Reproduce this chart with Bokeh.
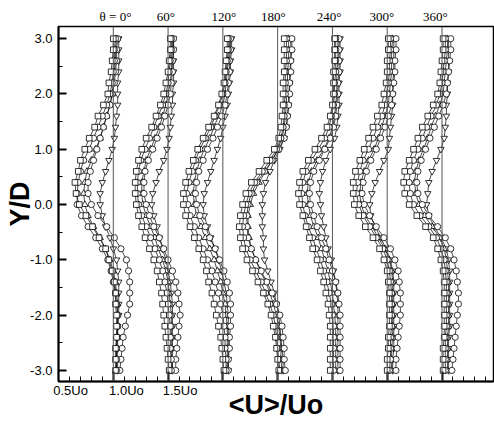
from bokeh.plotting import figure
from bokeh.models import Range1d, FixedTicker, Span, LinearAxis
from bokeh.embed import file_html
from bokeh.resources import INLINE

# ---------------- data ----------------
Y_D = [3.0, 2.8, 2.6, 2.4, 2.2, 2.0, 1.8, 1.6, 1.4, 1.2, 1.0, 0.8, 0.6, 0.4, 0.2, 0.0,
       -0.2, -0.4, -0.6, -0.8, -1.0, -1.2, -1.4, -1.6, -1.8, -2.0, -2.2, -2.4, -2.6, -2.8, -3.0]

PHASE_LABELS = ["θ = 0°", "60°", "120°", "180°", "240°", "300°", "360°"]

Y_TICKS = [-3, -2, -1, 0, 1, 2, 3]
Y_TICK_LABELS = ["-3.0", "-2.0", "-1.0", "0.0", "1.0", "2.0", "3.0"]
X_TICK_LABELS = ["0.5Uo", "1.0Uo", "1.5Uo"]

# <U>/Uo, one list per phase (0..360 deg), each over Y_D
U_SQUARE = [
    [1.00,1.00,0.99,0.98,0.96,0.95,0.91,0.86,0.83,0.78,0.74,0.70,0.68,0.65,0.66,0.69,0.75,0.81,0.87,0.93,0.96,0.99,1.01,1.02,1.02,1.03,1.03,1.03,1.02,1.02,1.02],
    [1.02,1.02,1.01,1.00,0.98,0.96,0.93,0.89,0.85,0.80,0.76,0.73,0.71,0.70,0.70,0.71,0.73,0.76,0.79,0.83,0.87,0.90,0.92,0.94,0.95,0.96,0.97,0.98,0.99,1.00,1.01],
    [1.04,1.04,1.03,1.02,1.01,0.99,0.96,0.92,0.87,0.82,0.77,0.73,0.69,0.66,0.64,0.64,0.66,0.70,0.74,0.78,0.82,0.85,0.87,0.90,0.92,0.94,0.96,0.98,0.99,1.00,1.01],
    [1.06,1.06,1.06,1.06,1.05,1.05,1.05,1.04,1.03,1.01,0.97,0.90,0.83,0.76,0.71,0.68,0.66,0.65,0.66,0.68,0.72,0.77,0.82,0.87,0.91,0.94,0.96,0.98,0.99,1.00,1.01],
    [1.02,1.02,1.02,1.01,1.01,1.01,1.00,0.98,0.95,0.90,0.84,0.78,0.73,0.70,0.69,0.70,0.73,0.76,0.79,0.82,0.86,0.89,0.92,0.94,0.96,0.97,0.98,0.98,0.98,0.98,0.98],
    [1.01,1.01,1.00,1.00,0.99,0.97,0.95,0.91,0.87,0.83,0.79,0.75,0.71,0.69,0.69,0.70,0.74,0.80,0.87,0.93,0.97,1.00,1.01,1.02,1.02,1.02,1.02,1.01,1.01,1.00,1.00],
    [1.01,1.01,1.00,0.99,0.98,0.96,0.92,0.87,0.82,0.78,0.74,0.70,0.66,0.65,0.66,0.70,0.77,0.85,0.92,0.96,0.99,1.01,1.02,1.02,1.02,1.02,1.02,1.02,1.01,1.01,1.01],
]
U_CIRCLE = [
    [1.02,1.01,1.01,1.00,0.99,0.97,0.94,0.90,0.86,0.82,0.78,0.73,0.70,0.68,0.67,0.67,0.71,0.77,0.84,0.90,0.95,0.98,1.00,1.02,1.03,1.04,1.04,1.03,1.03,1.03,1.03],
    [1.03,1.03,1.02,1.01,1.00,0.98,0.95,0.91,0.87,0.83,0.79,0.75,0.73,0.72,0.72,0.73,0.76,0.80,0.84,0.88,0.92,0.95,0.97,0.99,1.00,1.01,1.02,1.02,1.02,1.03,1.03],
    [1.05,1.05,1.04,1.03,1.02,1.00,0.97,0.93,0.89,0.84,0.79,0.75,0.72,0.69,0.67,0.68,0.70,0.74,0.78,0.82,0.86,0.90,0.93,0.96,0.98,1.00,1.01,1.02,1.02,1.03,1.03],
    [1.08,1.08,1.08,1.07,1.07,1.07,1.06,1.06,1.05,1.03,0.99,0.93,0.86,0.79,0.74,0.71,0.69,0.68,0.69,0.71,0.75,0.80,0.85,0.89,0.93,0.96,0.98,0.99,1.00,1.01,1.02],
    [1.03,1.03,1.03,1.03,1.02,1.02,1.01,0.99,0.97,0.93,0.87,0.81,0.76,0.73,0.72,0.73,0.75,0.78,0.82,0.85,0.89,0.92,0.95,0.97,0.99,1.00,1.01,1.01,1.01,1.01,1.01],
    [1.03,1.03,1.02,1.02,1.01,1.00,0.98,0.95,0.91,0.87,0.83,0.78,0.75,0.73,0.72,0.74,0.78,0.84,0.90,0.96,1.00,1.02,1.03,1.04,1.04,1.04,1.04,1.03,1.03,1.03,1.02],
    [1.03,1.03,1.02,1.01,1.00,0.98,0.95,0.90,0.86,0.82,0.78,0.74,0.71,0.70,0.71,0.74,0.80,0.88,0.95,0.99,1.02,1.03,1.04,1.04,1.04,1.04,1.04,1.03,1.03,1.03,1.03],
]
U_TRI_UP = [
    [1.03,1.02,1.02,1.01,1.00,0.99,0.97,0.94,0.91,0.88,0.84,0.80,0.76,0.74,0.73,0.74,0.77,0.82,0.88,0.93,0.97,1.00,1.02,1.03,1.04,1.04,1.04,1.04,1.03,1.03,1.03],
    [1.04,1.04,1.03,1.03,1.02,1.00,0.98,0.95,0.92,0.88,0.84,0.80,0.78,0.76,0.76,0.77,0.80,0.84,0.88,0.91,0.95,0.98,1.00,1.01,1.02,1.03,1.03,1.03,1.03,1.03,1.04],
    [1.06,1.06,1.05,1.04,1.03,1.02,1.00,0.96,0.92,0.88,0.83,0.79,0.76,0.74,0.73,0.74,0.76,0.80,0.84,0.88,0.92,0.95,0.98,1.00,1.02,1.03,1.04,1.04,1.04,1.04,1.04],
    [1.10,1.10,1.10,1.09,1.09,1.08,1.08,1.07,1.06,1.04,1.00,0.95,0.89,0.83,0.78,0.75,0.73,0.73,0.74,0.76,0.80,0.84,0.89,0.93,0.96,0.99,1.01,1.02,1.03,1.03,1.04],
    [1.05,1.05,1.05,1.04,1.04,1.04,1.03,1.02,1.00,0.97,0.92,0.86,0.81,0.78,0.77,0.78,0.80,0.83,0.87,0.90,0.93,0.96,0.98,1.00,1.01,1.02,1.03,1.03,1.03,1.03,1.03],
    [1.05,1.04,1.04,1.04,1.03,1.02,1.01,0.98,0.95,0.92,0.88,0.83,0.79,0.76,0.75,0.76,0.80,0.86,0.92,0.98,1.02,1.04,1.05,1.05,1.05,1.05,1.05,1.05,1.04,1.04,1.04],
    [1.05,1.05,1.04,1.03,1.02,1.01,0.98,0.94,0.90,0.87,0.83,0.79,0.76,0.75,0.76,0.79,0.84,0.91,0.98,1.02,1.04,1.05,1.06,1.06,1.06,1.06,1.06,1.05,1.05,1.05,1.05],
]
U_TRI_DOWN = [
    [1.05,1.05,1.05,1.05,1.04,1.04,1.04,1.03,1.02,1.01,0.99,0.96,0.93,0.90,0.88,0.88,0.90,0.93,0.97,1.00,1.03,1.04,1.05,1.05,1.05,1.05,1.04,1.04,1.04,1.04,1.04],
    [1.05,1.05,1.05,1.05,1.05,1.04,1.04,1.03,1.02,1.01,0.99,0.96,0.92,0.89,0.86,0.85,0.87,0.90,0.92,0.95,0.98,1.00,1.02,1.03,1.04,1.04,1.04,1.04,1.04,1.04,1.04],
    [1.08,1.08,1.07,1.07,1.06,1.05,1.04,1.02,1.00,0.98,0.95,0.92,0.89,0.86,0.83,0.82,0.83,0.86,0.89,0.93,0.96,0.99,1.01,1.03,1.04,1.05,1.05,1.05,1.05,1.05,1.05],
    [1.12,1.12,1.12,1.11,1.11,1.10,1.10,1.09,1.08,1.06,1.02,0.97,0.93,0.89,0.87,0.86,0.86,0.86,0.87,0.87,0.88,0.91,0.94,0.97,0.99,1.01,1.02,1.03,1.04,1.05,1.05],
    [1.07,1.07,1.07,1.07,1.06,1.06,1.06,1.05,1.04,1.02,0.98,0.94,0.91,0.89,0.88,0.89,0.90,0.92,0.94,0.96,0.99,1.01,1.03,1.04,1.05,1.05,1.05,1.05,1.05,1.05,1.05],
    [1.06,1.06,1.06,1.06,1.05,1.05,1.05,1.04,1.03,1.02,1.01,0.97,0.93,0.89,0.86,0.84,0.85,0.89,0.94,0.99,1.03,1.05,1.06,1.06,1.06,1.06,1.06,1.06,1.06,1.05,1.05],
    [1.06,1.06,1.06,1.06,1.05,1.05,1.04,1.04,1.03,1.02,0.99,0.95,0.91,0.88,0.87,0.86,0.88,0.93,0.99,1.04,1.06,1.07,1.07,1.07,1.07,1.07,1.07,1.06,1.06,1.06,1.06],
]
U_CIRCLE_B = [
    [1.04,1.03,1.03,1.02,1.01,0.99,0.97,0.94,0.91,0.88,0.85,0.82,0.79,0.77,0.77,0.80,0.86,0.94,1.01,1.07,1.12,1.14,1.15,1.15,1.15,1.13,1.11,1.09,1.08,1.07,1.06],
    [1.05,1.05,1.04,1.04,1.03,1.02,1.00,0.97,0.94,0.90,0.86,0.82,0.79,0.78,0.78,0.80,0.83,0.87,0.92,0.96,1.00,1.04,1.07,1.09,1.10,1.11,1.10,1.09,1.08,1.07,1.07],
    [1.07,1.07,1.06,1.06,1.05,1.04,1.02,0.99,0.95,0.91,0.86,0.82,0.78,0.76,0.75,0.76,0.79,0.84,0.88,0.93,0.97,1.01,1.04,1.06,1.07,1.07,1.07,1.06,1.06,1.05,1.05],
    [1.13,1.13,1.12,1.12,1.11,1.11,1.10,1.09,1.08,1.06,1.01,0.95,0.88,0.81,0.76,0.73,0.72,0.72,0.73,0.76,0.80,0.85,0.90,0.95,0.99,1.02,1.04,1.05,1.06,1.06,1.07],
    [1.06,1.06,1.06,1.06,1.05,1.05,1.04,1.03,1.01,0.98,0.93,0.88,0.83,0.80,0.79,0.80,0.83,0.86,0.90,0.94,0.97,1.00,1.03,1.05,1.06,1.07,1.07,1.07,1.07,1.07,1.07],
    [1.08,1.08,1.07,1.07,1.06,1.05,1.04,1.01,0.98,0.94,0.90,0.85,0.81,0.78,0.77,0.79,0.84,0.90,0.97,1.03,1.07,1.10,1.11,1.12,1.12,1.12,1.11,1.10,1.09,1.08,1.08],
    [1.08,1.08,1.07,1.06,1.05,1.04,1.01,0.97,0.93,0.89,0.85,0.81,0.78,0.77,0.78,0.82,0.88,0.96,1.03,1.08,1.11,1.13,1.14,1.15,1.15,1.14,1.13,1.12,1.11,1.10,1.09],
]

# ---------------- layout ----------------
SHIFT = 0.5            # each phase profile is shifted right by 0.5 Uo
X0, X1 = 0.5, 4.47
Y0, Y1 = -3.2, 3.22
SANS = "Liberation Sans"
SERIF = "Liberation Serif"

p = figure(width=494, height=422, x_range=Range1d(X0, X1), y_range=Range1d(Y0, Y1),
           output_backend="svg", toolbar_location=None,
           min_border_left=58, min_border_right=1, min_border_top=26, min_border_bottom=41)
p.xgrid.visible = False
p.ygrid.visible = False
p.background_fill_color = "white"
p.border_fill_color = "white"
p.outline_line_color = "black"
p.outline_line_width = 1.5

# reference lines U = Uo for each phase
for k in range(len(PHASE_LABELS)):
    p.add_layout(Span(location=1.0 + SHIFT * k, dimension="height",
                      line_color="#555555", line_width=1))

series = [
    (U_TRI_DOWN, "inverted_triangle", 6.5),
    (U_TRI_UP, "triangle", 6.5),
    (U_CIRCLE_B, "circle", 6.2),
    (U_CIRCLE, "circle", 6.2),
    (U_SQUARE, "square", 5.6),
]

for data, _, _ in series:
    for k, prof in enumerate(data):
        xs = [u + SHIFT * k for u in prof]
        p.line(xs, Y_D, line_color="black", line_width=0.7)
for data, marker, size in series:
    for k, prof in enumerate(data):
        xs = [u + SHIFT * k for u in prof]
        p.scatter(xs, Y_D, marker=marker, size=size, fill_color="white",
                  line_color="black", line_width=0.8)

# bottom axis 1: tick marks only
xa = p.xaxis[0]
x_major = [1.0 + SHIFT * k for k in range(len(PHASE_LABELS))]
x_minor = [round(0.5 + 0.1 * i, 2) for i in range(1, 40) if i % 5 != 0]
xa.ticker = FixedTicker(ticks=x_major, minor_ticks=x_minor)
xa.major_label_overrides = {t: "" for t in x_major}
xa.major_label_text_font_size = "0px"
xa.major_label_standoff = 0
xa.axis_line_width = 2
xa.major_tick_in = 10
xa.major_tick_out = 0
xa.minor_tick_in = 5
xa.minor_tick_out = 0
xa.major_tick_line_width = 2
xa.minor_tick_line_width = 1

# bottom axis 2: the Uo labels and the title
x_label_pos = [0.61, 1.12, 1.61]
xb = LinearAxis(ticker=FixedTicker(ticks=x_label_pos, minor_ticks=[]),
                major_label_overrides={t: s for t, s in zip(x_label_pos, X_TICK_LABELS)},
                axis_line_color=None, major_tick_line_color=None, minor_tick_line_color=None,
                major_tick_in=0, major_tick_out=0, minor_tick_in=0, minor_tick_out=0,
                major_label_standoff=1, major_label_text_font=SANS,
                major_label_text_font_size="13px", major_label_text_color="black",
                axis_label="<U>/Uo", axis_label_standoff=-11,
                axis_label_text_font=SANS, axis_label_text_font_style="bold",
                axis_label_text_font_size="27px", axis_label_text_color="black")
p.add_layout(xb, "below")

# top axis: phase labels
phase_pos = [1.02, 1.48, 2.01, 2.46, 2.97, 3.45, 3.94]
xt = LinearAxis(ticker=FixedTicker(ticks=phase_pos, minor_ticks=[]),
                major_label_overrides={t: s for t, s in zip(phase_pos, PHASE_LABELS)},
                axis_line_color=None, major_tick_line_color=None, minor_tick_line_color=None,
                major_tick_in=0, major_tick_out=0, minor_tick_in=0, minor_tick_out=0,
                major_label_standoff=3, major_label_text_font=SERIF,
                major_label_text_font_size="13px", major_label_text_color="black")
p.add_layout(xt, "above")

# left axis
ya = p.yaxis[0]
ya.ticker = FixedTicker(ticks=Y_TICKS, minor_ticks=[t + 0.5 for t in Y_TICKS[:-1]])
ya.major_label_overrides = {t: s for t, s in zip(Y_TICKS, Y_TICK_LABELS)}
ya.axis_line_width = 2
ya.major_tick_in = 8
ya.major_tick_out = 0
ya.minor_tick_in = 4
ya.minor_tick_out = 0
ya.major_tick_line_width = 2
ya.minor_tick_line_width = 1
ya.major_label_standoff = 6
ya.major_label_text_font = SANS
ya.major_label_text_font_size = "13px"
ya.major_label_text_color = "black"
ya.axis_label = "Y/D"
ya.axis_label_standoff = -8
ya.axis_label_text_font = SANS
ya.axis_label_text_font_style = "bold"
ya.axis_label_text_font_size = "27px"
ya.axis_label_text_color = "black"

open("out.html", "w").write(file_html(p, INLINE))
